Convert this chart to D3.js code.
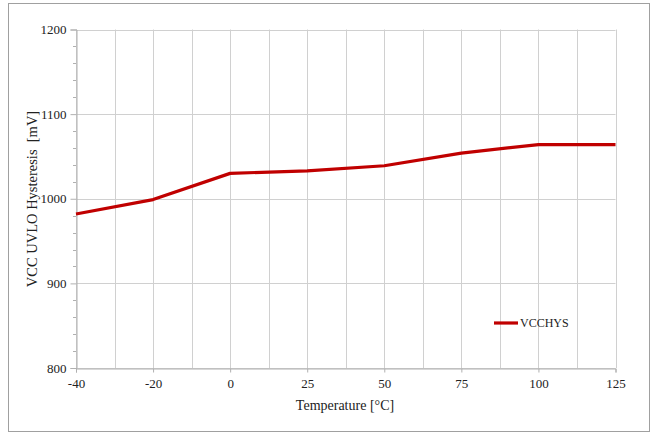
<!DOCTYPE html>
<html><head><meta charset="utf-8">
<script src="https://cdn.jsdelivr.net/npm/d3@7"></script>
<style>body{margin:0;background:#fff}svg{display:block}text{font-family:"Liberation Serif","Times New Roman",serif;fill:#222}</style>
</head><body><svg id="c" width="651" height="432"></svg>
<script>
const categories = ["-40","-20","0","25","50","75","100","125"];
const vcchys = [982, 999, 1030, 1033, 1039, 1054, 1064, 1064];
const yTicks = [800, 900, 1000, 1100, 1200];
const seriesName = "VCCHYS";

const svg = d3.select("#c");
const L = 76, R = 615.5, T = 29.5, B = 368;
const FONT = "'Liberation Serif','Times New Roman',serif";
svg.append("rect").attr("x",8.5).attr("y",3.5).attr("width",641).attr("height",428).attr("fill","#fff").attr("stroke","#a0a0a0").attr("stroke-width",1);

const x = d3.scalePoint().domain(categories).range([L, R]);
const y = d3.scaleLinear().domain([800,1200]).range([B, T]);
const step = x.step();

const g = svg.append("g");
const vx = [];
categories.forEach((c,i)=>{ vx.push(x(c)); if(i<categories.length-1) vx.push(x(c)+step/2); });
g.selectAll(".vg").data(vx).enter().append("line")
  .attr("x1",d=>Math.round(d)+0.5).attr("x2",d=>Math.round(d)+0.5).attr("y1",T).attr("y2",B)
  .attr("stroke","#d0d0d0").attr("stroke-width",1);
g.selectAll(".hg").data(yTicks).enter().append("line")
  .attr("x1",L).attr("x2",R).attr("y1",d=>Math.round(y(d))+0.5).attr("y2",d=>Math.round(y(d))+0.5)
  .attr("stroke","#d0d0d0").attr("stroke-width",1);

// y axis
const yAxis = d3.axisLeft(y).tickValues(yTicks).tickFormat(d3.format("d")).tickSize(6).tickPadding(4);
const ya = svg.append("g").attr("transform",`translate(${L+0.5},0)`).call(yAxis)
  .attr("font-family",FONT).attr("font-size",13);
ya.select(".domain").attr("stroke","#b0b0b0");
ya.selectAll(".tick line").attr("stroke","#b0b0b0");
ya.selectAll("text").attr("fill","#222");
const minor = d3.range(820,1200,20).filter(v=>v%100!==0);
svg.selectAll(".ym").data(minor).enter().append("line")
  .attr("x1",L-3).attr("x2",L).attr("y1",d=>Math.round(y(d))+0.5).attr("y2",d=>Math.round(y(d))+0.5)
  .attr("stroke","#b0b0b0");

// x axis
const xAxis = d3.axisBottom(x).tickSize(4).tickPadding(6);
const xa = svg.append("g").attr("transform",`translate(0,${B+0.5})`).call(xAxis)
  .attr("font-family",FONT).attr("font-size",13);
xa.select(".domain").attr("stroke","#b0b0b0");
xa.selectAll(".tick line").attr("stroke","#b0b0b0");
xa.selectAll("text").attr("fill","#222");

// line
const line = d3.line().x((d,i)=>x(categories[i])).y(d=>y(d));
svg.append("path").datum(vcchys).attr("d",line).attr("fill","none")
  .attr("stroke","#c00000").attr("stroke-width",3.2).attr("stroke-linejoin","round");

// legend
svg.append("line").attr("x1",494).attr("x2",518).attr("y1",323).attr("y2",323)
  .attr("stroke","#c00000").attr("stroke-width",3.2);
svg.append("text").attr("x",520).attr("y",323).attr("dominant-baseline","central")
  .style("font-size","12px").text(seriesName);

// titles
svg.append("text").attr("x",345).attr("y",405).attr("text-anchor","middle").attr("dominant-baseline","central")
  .style("font-size","14px").text("Temperature [°C]");
svg.append("text").attr("transform","translate(32,199) rotate(-90)").attr("text-anchor","middle")
  .attr("dominant-baseline","central").style("font-size","14.5px").style("white-space","pre")
  .text("VCC UVLO Hysteresis  [mV]");
</script></body></html>
